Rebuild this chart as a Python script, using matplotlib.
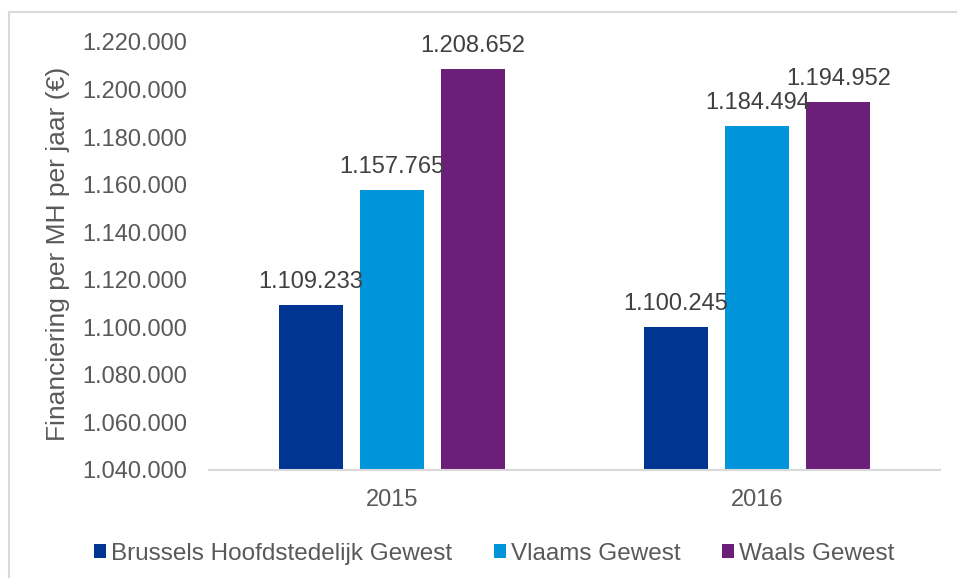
import numpy as np
import matplotlib.pyplot as plt
from matplotlib.patches import Rectangle

years = ['2015', '2016']
regions = ['Brussels Hoofdstedelijk Gewest', 'Vlaams Gewest', 'Waals Gewest']
values = {
    'Brussels Hoofdstedelijk Gewest': [1109233, 1100245],
    'Vlaams Gewest': [1157765, 1184494],
    'Waals Gewest': [1208652, 1194952],
}
colors = ['#003591', '#0095db', '#6c1f78']
yticks = np.arange(1040000, 1220001, 20000)

plt.rcParams['font.family'] = ['Liberation Sans', 'DejaVu Sans']
plt.rcParams['font.size'] = 17

def fmt(v):
    return f'{v:,.0f}'.replace(',', '.')

fig = plt.figure(figsize=(9.57, 5.78), dpi=100)
ax = fig.add_axes([209 / 957, 1 - 470 / 578, 731 / 957, 428 / 578])

# outer frame (only top and left visible in the reference)
fig.patches.append(Rectangle((9 / 957, -0.1), 1.2, 1 - 12 / 578 + 0.1,
                             transform=fig.transFigure, fill=False,
                             edgecolor='#d9d9d9', linewidth=1.5))

x = np.arange(len(years))
width = 0.175
step = 0.222
for i, (reg, col) in enumerate(zip(regions, colors)):
    pos = x + (i - 1) * step
    ax.bar(pos, values[reg], width=width, color=col, label=reg, zorder=2)
    for px, v in zip(pos, values[reg]):
        ax.annotate(fmt(v), (px, v), xytext=(0, 17), textcoords='offset pixels',
                    ha='center', va='baseline', color='#404040', fontsize=17)

ax.set_ylim(1040000, 1220000)
ax.set_xlim(-0.5, 1.5)
ax.set_yticks(yticks)
ax.set_yticklabels([fmt(v) for v in yticks])
ax.set_xticks(x)
ax.set_xticklabels(years)
ax.tick_params(length=0, colors='#595959', labelsize=17)
ax.tick_params(axis='y', pad=16)
ax.tick_params(axis='x', pad=14)
for s in ['top', 'right', 'left']:
    ax.spines[s].set_visible(False)
ax.spines['bottom'].set_color('#d9d9d9')
ax.spines['bottom'].set_linewidth(1.5)

ax.set_ylabel('Financiering per MH per jaar (€)', color='#595959', fontsize=19, va='center')
ax.yaxis.set_label_coords(-0.207, 0.505)

fig.legend(loc='center', bbox_to_anchor=(494 / 957, 1 - 554 / 578), ncol=3,
           frameon=False, handlelength=0.5, handleheight=0.5, handletextpad=0.2,
           columnspacing=1.7, labelcolor='#595959', fontsize=17.5)

fig.savefig('out.png', dpi=100)
